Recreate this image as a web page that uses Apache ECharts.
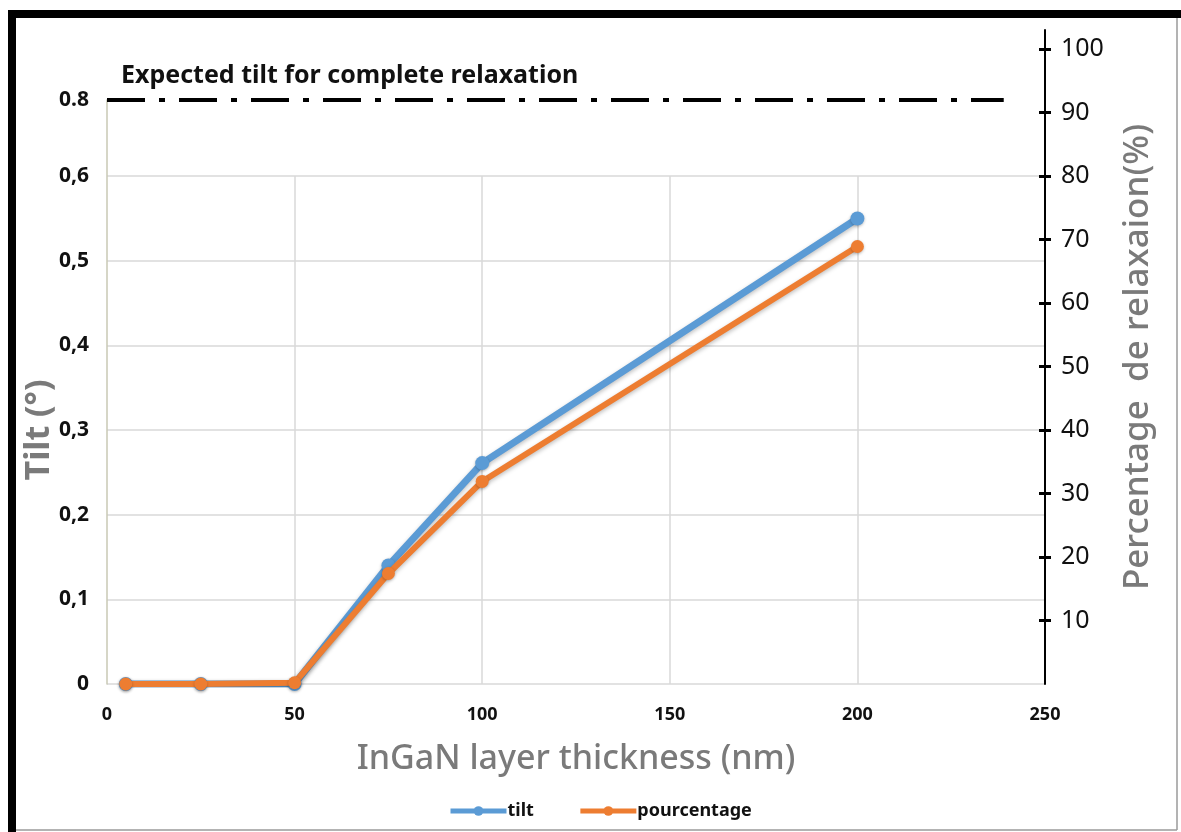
<!DOCTYPE html>
<html>
<head>
<meta charset="utf-8">
<script src="https://cdn.jsdelivr.net/npm/echarts@6/dist/echarts.min.js"></script>
<style>
  html, body { margin: 0; padding: 0; background: #ffffff; }
  #chart { width: 1181px; height: 832px; }
</style>
</head>
<body>
<div id="chart"></div>
<script>
// ---- data ----
var thickness = [5, 25, 50, 75, 100, 200];
var tiltValues = [0, 0, 0, 0.14, 0.261, 0.55];
var percentValues = [0, 0, 0.2, 17.4, 31.9, 68.9];
var seriesNames = ['tilt', 'pourcentage'];
var xTickLabels = ['0', '50', '100', '150', '200', '250'];
var leftTickValues = [0, 0.1, 0.2, 0.3, 0.4, 0.5, 0.6, 0.69];
var leftTickLabels = ['0', '0,1', '0,2', '0,3', '0,4', '0,5', '0,6', '0.8'];
var rightTickValues = [10, 20, 30, 40, 50, 60, 70, 80, 90, 100];
var expectedLevel = [0.69];          // drawn level of the "0.8" expected tilt line
var expectedLineX = [0, 239];        // extent of the dash-dot line along x
var annotationText = 'Expected tilt for complete relaxation';
var xAxisName = 'InGaN layer thickness (nm)';
var leftAxisName = 'Tilt (°)';
var rightAxisName = 'Percentage  de relaxaion(%)';

var FONT = '"Noto Sans", "Open Sans", sans-serif';
var chart = echarts.init(document.getElementById('chart'), null, { renderer: 'canvas' });

function pairs(xs, ys) { return xs.map(function (x, i) { return [x, ys[i]]; }); }

var gridL = 107, gridR = 1181 - 1045, gridB = 832 - 684;

var option = {
  backgroundColor: '#ffffff',
  animation: false,
  title: {
    text: annotationText,
    left: 116, top: 58,
    textStyle: { fontFamily: FONT, fontSize: 25, fontWeight: 'bold', color: '#111' }
  },
  legend: {
    data: seriesNames,
    left: 443, top: 797,
    itemWidth: 56, itemHeight: 12, itemGap: 44,
    lineStyle: { width: 5 },
    textStyle: { fontFamily: FONT, fontSize: 18, fontWeight: 'bold', color: '#111', padding: [0, 0, 0, -4] }
  },
  grid: [
    { left: gridL, right: gridR, top: 100, bottom: gridB },   // tilt (left axis)
    { left: gridL, right: gridR, top: 176, bottom: gridB },   // gridlines
    { left: gridL, right: gridR, top: 30, bottom: gridB }     // percentage (right axis)
  ],
  xAxis: [
    {
      gridIndex: 0, type: 'value', min: 0, max: 250, interval: 50,
      axisLine: { show: false, onZero: false }, axisTick: { show: false }, splitLine: { show: false },
      axisLabel: {
        margin: 22, color: '#111', fontFamily: FONT, fontSize: 18, fontWeight: 'bold',
        formatter: function (v) { return xTickLabels[Math.round(v / 50)]; }
      },
      name: xAxisName, nameLocation: 'middle', nameGap: 58,
      nameTextStyle: { fontFamily: FONT, fontSize: 34, color: '#7a7a7a', fontWeight: 500 }
    },
    {
      gridIndex: 1, type: 'value', min: 0, max: 250, interval: 50,
      axisLine: { show: false, onZero: false }, axisTick: { show: false }, axisLabel: { show: false },
      splitLine: { show: true, showMinLine: false, showMaxLine: false, lineStyle: { color: '#d9d9d9', width: 1.5 } }
    },
    {
      gridIndex: 2, type: 'value', min: 0, max: 250, interval: 50, show: false,
      axisLine: { onZero: false }
    }
  ],
  yAxis: [
    {
      gridIndex: 0, type: 'value', min: 0, max: 0.69, position: 'left',
      axisLine: { show: true, onZero: false, lineStyle: { color: '#c8c8b4', width: 1.5 } },
      axisTick: { show: false },
      splitLine: { show: false },
      axisLabel: {
        customValues: leftTickValues,
        margin: 18, color: '#111', fontFamily: FONT, fontSize: 21, fontWeight: 'bold',
        formatter: function (v) {
          for (var i = 0; i < leftTickValues.length; i++) {
            if (Math.abs(leftTickValues[i] - v) < 1e-6) return leftTickLabels[i];
          }
          return '';
        }
      }
    },
    {
      gridIndex: 1, type: 'value', min: 0, max: 0.6, interval: 0.1, position: 'left',
      axisLine: { show: false, onZero: false }, axisTick: { show: false }, axisLabel: { show: false },
      splitLine: { show: true, lineStyle: { color: '#d9d9d9', width: 1.5 } },
      name: leftAxisName, nameLocation: 'middle', nameGap: 51,
      nameTextStyle: { fontFamily: FONT, fontSize: 34, color: '#7a7a7a', fontWeight: 'bold' }
    },
    {
      gridIndex: 2, type: 'value', min: 0, max: 103, position: 'right',
      axisLine: { show: true, onZero: false, lineStyle: { color: '#000', width: 2 } },
      axisTick: { show: true, customValues: rightTickValues, length: 6, inside: false, lineStyle: { color: '#000', width: 3 } },
      splitLine: { show: false },
      axisLabel: {
        customValues: rightTickValues, margin: 16, color: '#111',
        fontFamily: FONT, fontSize: 25
      },
      name: rightAxisName, nameLocation: 'middle', nameGap: 76,
      nameTextStyle: { fontFamily: FONT, fontSize: 35, color: '#7a7a7a', fontWeight: 500 }
    },
    {
      gridIndex: 2, type: 'value', min: 0, max: 103, position: 'right',
      axisLine: { show: false, onZero: false },
      axisTick: { show: true, customValues: rightTickValues, length: 6, inside: true, lineStyle: { color: '#000', width: 3 } },
      axisLabel: { show: false }, splitLine: { show: false }
    }
  ],
  series: [
    {
      name: seriesNames[0], type: 'line', xAxisIndex: 0, yAxisIndex: 0,
      data: pairs(thickness, tiltValues),
      symbol: 'circle', symbolSize: 14,
      itemStyle: { color: '#5b9bd5', shadowColor: 'rgba(0,0,0,0.25)', shadowBlur: 3, shadowOffsetY: 1 },
      lineStyle: { color: '#5b9bd5', width: 7, shadowColor: 'rgba(0,0,0,0.25)', shadowBlur: 4, shadowOffsetY: 2 },
      z: 3,
      markLine: {
        silent: true, symbol: ['none', 'none'], label: { show: false },
        lineStyle: { color: '#000', width: 4, type: [38, 14, 6, 14], opacity: 1, shadowBlur: 0 },
        data: [[{ coord: [expectedLineX[0], expectedLevel[0]] }, { coord: [expectedLineX[1], expectedLevel[0]] }]]
      }
    },
    {
      name: seriesNames[1], type: 'line', xAxisIndex: 2, yAxisIndex: 2,
      data: pairs(thickness, percentValues),
      symbol: 'circle', symbolSize: 13,
      itemStyle: { color: '#ed7d31', shadowColor: 'rgba(0,0,0,0.25)', shadowBlur: 3, shadowOffsetY: 1 },
      lineStyle: { color: '#ed7d31', width: 6, shadowColor: 'rgba(0,0,0,0.25)', shadowBlur: 4, shadowOffsetY: 2 },
      z: 4
    }
  ],
  graphic: [
    { type: 'rect', shape: { x: 8, y: 10, width: 8, height: 822 }, style: { fill: '#000' }, silent: true },
    { type: 'rect', shape: { x: 8, y: 10, width: 1173, height: 8 }, style: { fill: '#000' }, silent: true },
    { type: 'line', shape: { x1: 1177, y1: 18, x2: 1177, y2: 830 }, style: { stroke: '#9a9a9a', lineWidth: 1.5 }, silent: true },
    { type: 'line', shape: { x1: 16, y1: 830, x2: 1177, y2: 830 }, style: { stroke: '#9a9a9a', lineWidth: 1.5 }, silent: true }
  ]
};
chart.setOption(option);
</script>
</body>
</html>
